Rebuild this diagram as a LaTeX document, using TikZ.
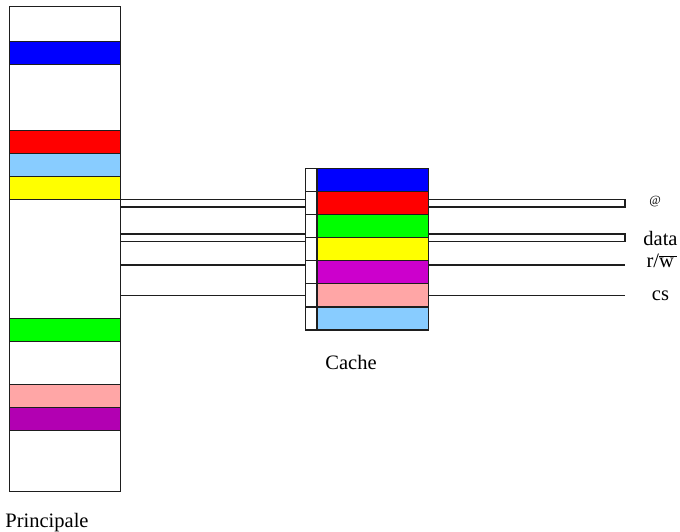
\documentclass[tikz,border=0pt]{standalone}
\usepackage{fontspec}
\setmainfont{Liberation Serif}
\definecolor{mblue}{RGB}{0,0,255}
\definecolor{mred}{RGB}{255,0,0}
\definecolor{msky}{RGB}{136,204,255}
\definecolor{myellow}{RGB}{255,255,0}
\definecolor{mgreen}{RGB}{0,255,0}
\definecolor{mpink}{RGB}{255,166,166}
\definecolor{mpurple}{RGB}{178,0,178}
\definecolor{cpurple}{RGB}{204,0,204}
\definecolor{edge}{RGB}{30,30,30}
\begin{document}
\begin{tikzpicture}[x=1pt,y=-1pt,
  box/.style={draw=edge, line width=1.2pt, inner sep=0pt, outer sep=0pt, anchor=north west},
  band/.style={box, minimum width=111.4pt, minimum height=23pt},
  tag/.style={box, fill=white, minimum width=11.3pt, minimum height=23.1pt},
  line/.style={box, minimum width=111.6pt, minimum height=23.1pt},
  bus/.style={draw=edge, line width=1.2pt, fill=white},
  wire/.style={draw=edge, line width=1.2pt},
  lbl/.style={inner sep=0pt, font=\fontsize{20.5}{24}\selectfont, anchor=base}]
\useasboundingbox (0,0) rectangle (680,532);

% main memory with its occupied blocks
\node[box, fill=white, minimum width=111.4pt, minimum height=485pt] (mem) at (9.3,6.7) {};
\node[band, fill=mblue]   (m1) at (9.3,41.7)  {};
\node[band, fill=mred]    (m2) at (9.3,130.3) {};
\node[band, fill=msky]    (m3) at (9.3,153.3) {};
\node[band, fill=myellow] (m4) at (9.3,176.3) {};
\node[band, fill=mgreen]  (m5) at (9.3,318.3) {};
\node[band, fill=mpink]   (m6) at (9.3,384.3) {};
\node[band, fill=mpurple] (m7) at (9.3,407.3) {};
\node[lbl] (memlbl) at (47,527) {Principale};

% cache: tag column and data lines
\foreach \i/\c in {1/mblue,2/mred,3/mgreen,4/myellow,5/cpurple,6/mpink,7/msky}{
  \node[tag] (t\i) at (305.7,{168.3+(\i-1)*23.1}) {};
  \node[line, fill=\c] (c\i) at (317,{168.3+(\i-1)*23.1}) {};
}
\node[lbl] (cachelbl) at (351,369) {Cache};

% bus levels
\coordinate (ya) at (0,199.3);
\coordinate (yb) at (0,207);
\coordinate (yc) at (0,234);
\coordinate (yd) at (0,241.7);
\coordinate (ye) at (0,265);
\coordinate (yf) at (0,295.7);
\coordinate (rend) at (625,0);

% memory to cache
\draw[bus] (mem.east |- ya) rectangle (t2.west |- yb);
\draw[bus] (mem.east |- yc) rectangle (t3.west |- yd);
\draw[wire] (mem.east |- ye) -- (t5.west |- ye);
\draw[wire] (mem.east |- yf) -- (t6.west |- yf);

% cache to processor side
\draw[bus] (c2.east |- ya) rectangle (rend |- yb);
\draw[bus] (c4.east |- yc) rectangle (rend |- yd);
\draw[wire] (c5.east |- ye) -- (rend |- ye);
\draw[wire] (c6.east |- yf) -- (rend |- yf);

% signal names
\node[inner sep=0pt, font=\fontsize{12.5}{14}\selectfont] (la) at (655,201.5) {@};
\node[lbl] (ld) at (660.5,245) {data};
\node[lbl] (lrw) at (662,267) {r/$\overline{\mbox{w}\,}$};
\node[lbl] (lcs) at (660.5,300) {cs};
\end{tikzpicture}
\end{document}
